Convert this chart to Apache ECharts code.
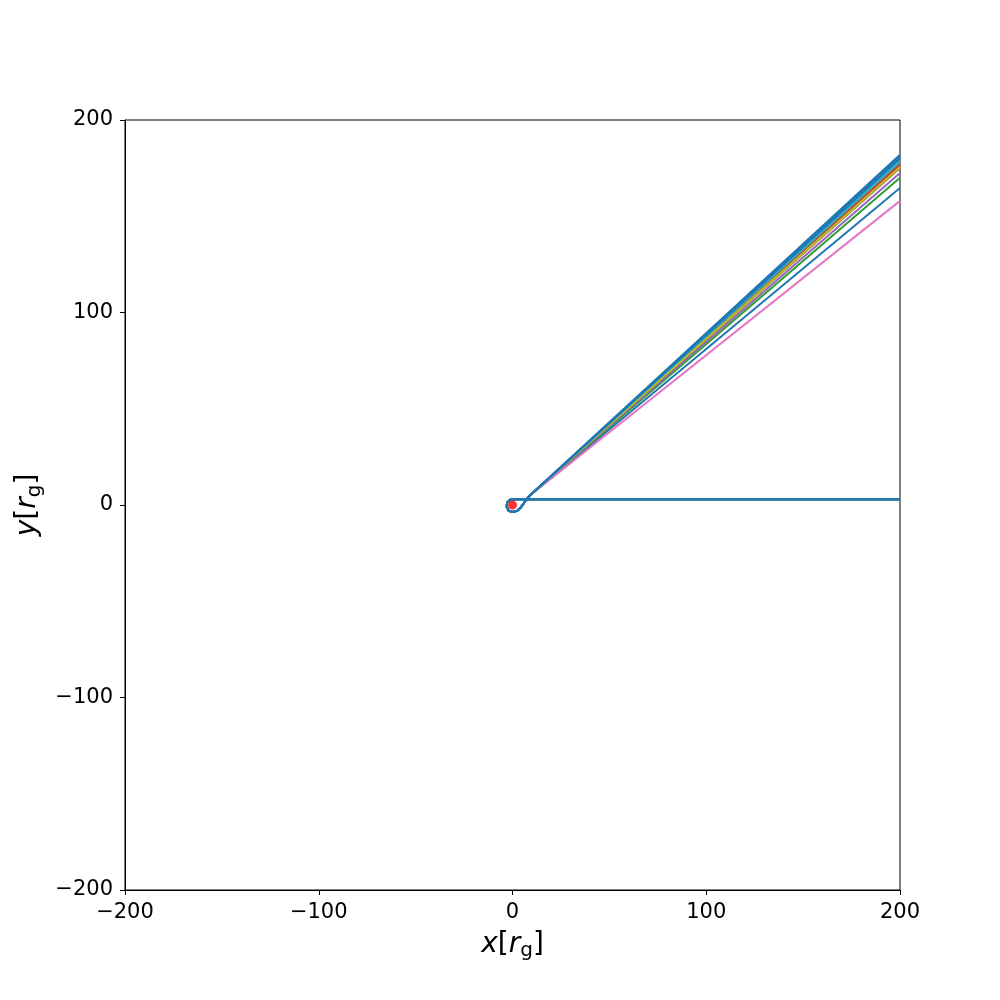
<!DOCTYPE html>
<html>
<head>
<meta charset="utf-8">
<script src="https://cdn.jsdelivr.net/npm/echarts@6/dist/echarts.min.js"></script>
<style>
html, body { margin: 0; padding: 0; background: #fff; }
#chart { width: 1000px; height: 1000px; }
</style>
</head>
<body>
<div id="chart"></div>
<script>
var xTicks = [-200, -100, 0, 100, 200];
var yTicks = [-200, -100, 0, 100, 200];

// incoming ray along y~3, loop round the hole, out towards upper right
var loopPath = [[200, 3], [2, 3], [-1, 2.8], [-2.8, 1.2], [-3, -1], [-2, -3], [0, -3.6],
    [2.5, -3], [4.5, -1], [6.5, 1.8], [8.5, 4.5]];

var rayColors = ['#1f77b4', '#ff7f0e', '#2ca02c', '#d62728', '#9467bd', '#8c564b',
    '#e377c2', '#7f7f7f', '#bcbd22', '#17becf', '#1f77b4', '#1f77b4', '#1f77b4'];
var rayEndY = [164.7, 176.5, 170, 177, 172.5, 175, 158, 177.8, 175.5, 179, 180, 181, 182];

var holeCenter = [[0, 0]];

var minus = function (v) { return String(v).replace('-', '\u2212'); };

var series = [];
for (var i = 0; i < rayColors.length; i++) {
    series.push({
        type: 'line',
        data: loopPath.concat([[200, rayEndY[i]]]),
        showSymbol: false,
        lineStyle: { color: rayColors[i], width: 2 },
        itemStyle: { color: rayColors[i] },
        z: 2
    });
}
series.push({
    type: 'scatter',
    data: holeCenter,
    symbolSize: 9,
    itemStyle: { color: '#ff0000' },
    z: 5
});

var nameRich = {
    i: { fontFamily: 'DejaVu Sans', fontStyle: 'italic', fontSize: 28, color: '#000' },
    n: { fontFamily: 'DejaVu Sans', fontSize: 28, color: '#000' },
    s: { fontFamily: 'DejaVu Sans', fontSize: 20, color: '#000', padding: [13, 0, 0, 0] }
};

var option = {
    animation: false,
    grid: {
        left: 125, right: 100, top: 120, bottom: 110,
        show: true, borderColor: '#000', borderWidth: 1, backgroundColor: 'transparent'
    },
    xAxis: {
        type: 'value', min: -200, max: 200, interval: 100,
        name: '{i|x}{n|[}{i|r}{s|g}{n|]}',
        nameLocation: 'middle', nameGap: 38,
        nameTextStyle: { rich: nameRich },
        axisLine: { show: true, onZero: false, lineStyle: { color: '#000', width: 1 } },
        axisTick: { show: true, length: 5, lineStyle: { color: '#000' } },
        axisLabel: {
            margin: 12, fontSize: 21, color: '#000', fontFamily: 'DejaVu Sans',
            formatter: function (v) { return xTicks.indexOf(v) >= 0 ? minus(v) : ''; }
        },
        splitLine: { show: false }
    },
    yAxis: {
        type: 'value', min: -200, max: 200, interval: 100,
        name: '{i|y}{n|[}{i|r}{s|g}{n|]}',
        nameLocation: 'middle', nameGap: 78, nameRotate: 90,
        nameTextStyle: { rich: nameRich },
        axisLine: { show: true, onZero: false, lineStyle: { color: '#000', width: 1 } },
        axisTick: { show: true, length: 5, lineStyle: { color: '#000' } },
        axisLabel: {
            margin: 12, fontSize: 21, color: '#000', fontFamily: 'DejaVu Sans',
            formatter: function (v) { return yTicks.indexOf(v) >= 0 ? minus(v) : ''; }
        },
        splitLine: { show: false }
    },
    series: series
};

var chart = echarts.init(document.getElementById('chart'));
chart.setOption(option);
window.onresize = function () { chart.resize(); };
</script>
</body>
</html>
